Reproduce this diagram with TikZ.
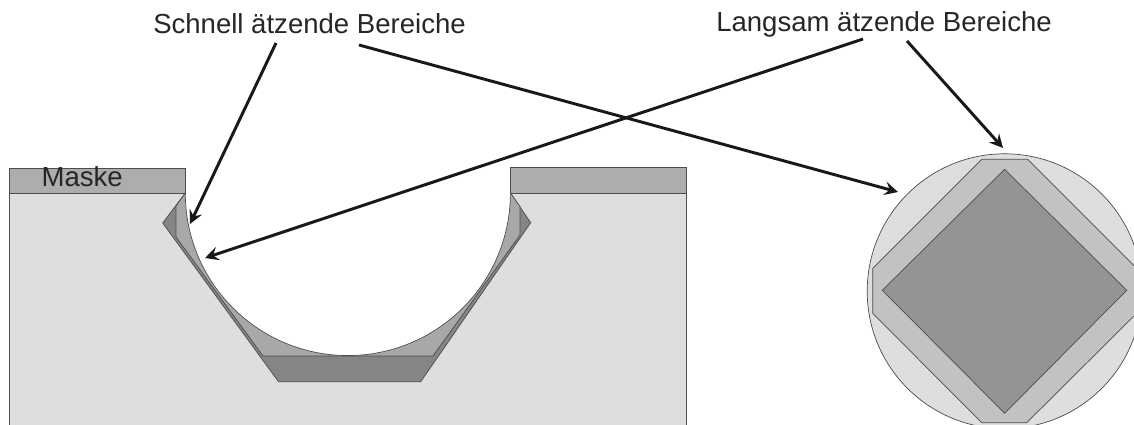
\documentclass[tikz,border=0pt]{standalone}
\usepackage{fontspec}
\setmainfont{Liberation Sans}
\usetikzlibrary{arrows.meta}

\tikzset{
    outline/.style={draw=black!70, line width=0.5pt},
    pointer/.style={line width=2.1pt, draw=black!90, -{Stealth[length=3.4mm, width=3.4mm, inset=1.3mm]}},
    caption/.style={inner sep=0pt, font=\fontsize{19.6pt}{22pt}\selectfont, text=black!85},
}

\begin{document}
\begin{tikzpicture}[x=0.25mm, y=-0.25mm]
    \clip (0,0) rectangle (1134,425);
    \coordinate (W) at (1004.6,291.2);
    % substrate
    \draw[outline, fill=black!13] (9.5,430) -- (9.5,193) -- (686,193) -- (686,430);
    % etched pit, slow and fast layers
    \draw[outline, fill=black!48] (185.3,193) -- (162.7,223) -- (278.5,381.7) -- (420.7,381.7) -- (530.7,222.7) -- (510.4,193) -- cycle;
    \draw[outline, fill=black!34] (185.3,193) -- (176,206) -- (176,237) -- (263,356) -- (433,356) -- (520,235) -- (520,206.5) -- (510.4,193) -- cycle;
    \fill[white] (185.3,193) arc (180:0:162.55) -- (510.4,185) -- (185.3,185) -- cycle;
    \draw[outline] (185.3,193) arc (180:0:162.55);
    % mask
    \draw[outline, fill=black!32] (9.5,168) rectangle (185.3,193);
    \draw[outline, fill=black!32] (510.4,167.5) rectangle (686,193);
    % wafer from above
    \draw[outline, fill=black!13] (W) circle (137.4);
    \draw[outline, fill=black!24] (981.7,159.3) -- (1027.7,159.3) -- (1136.7,268.3) -- (1136.7,313.3) -- (1026.7,422.7) -- (981.7,422.7) -- (872.7,313.3) -- (872.7,268.3) -- cycle;
    \draw[outline, fill=black!42] (1004.6,169.3) -- (1126.7,290.3) -- (1004.6,413.3) -- (882.3,290.3) -- cycle;
    % labels and pointers
    \node[caption, anchor=base] (fast) at (309.5,33.7) {Schnell ätzende Bereiche};
    \node[caption, anchor=base] (slow) at (884,31.7) {Langsam ätzende Bereiche};
    \node[caption, anchor=base] (mask) at (82.2,187) {Maske};
    \coordinate (fastA) at (276,43);
    \coordinate (fastB) at (359,45);
    \coordinate (slowA) at (863,39);
    \coordinate (slowB) at (907,41);
    \coordinate (tipA) at (190,224);
    \coordinate (tipB) at (898,192);
    \coordinate (tipC) at (205,258);
    \coordinate (tipD) at (1003,148);
    \draw[pointer] (fastA) -- (tipA);
    \draw[pointer] (fastB) -- (tipB);
    \draw[pointer] (slowA) -- (tipC);
    \draw[pointer] (slowB) -- (tipD);
\end{tikzpicture}
\end{document}
